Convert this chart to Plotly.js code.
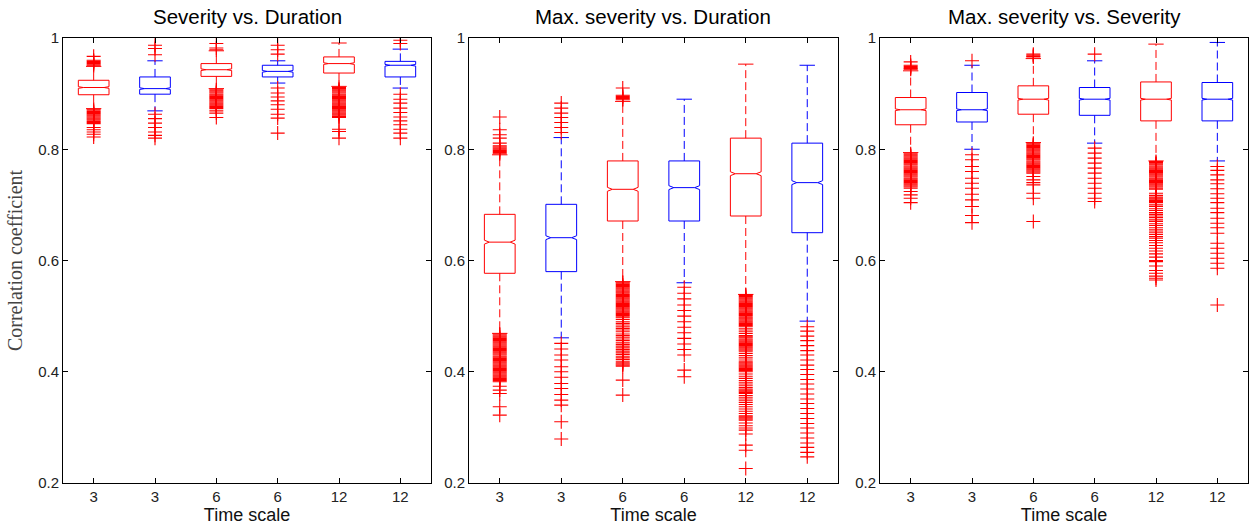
<!DOCTYPE html>
<html><head><meta charset="utf-8">
<script src="https://cdn.plot.ly/plotly-3.0.1.min.js"></script>
<style>html,body{margin:0;padding:0;background:#fff}#chart{width:1250px;height:527px}</style>
</head><body><div id="chart"></div>
<script>
// ---------- shared labels ----------
const positions = [1, 2, 3, 4, 5, 6];
const tickLabels = ["3", "3", "6", "6", "12", "12"];
const boxColors = ["#ff0000", "#0000ff", "#ff0000", "#0000ff", "#ff0000", "#0000ff"];
const panelTitles = ["Severity vs. Duration", "Max. severity vs. Duration", "Max. severity vs. Severity"];
const xTitle = "Time scale";
const yTitle = "Correlation coefficient";
const yTickVals = [0.2, 0.4, 0.6, 0.8, 1];
const yTickText = ["0.2", "0.4", "0.6", "0.8", "1"];

// ---------- Panel 1: Severity vs. Duration ----------
const p1_q1 = [0.898, 0.899, 0.931, 0.930, 0.937, 0.930];
const p1_med = [0.911, 0.909, 0.943, 0.940, 0.954, 0.951];
const p1_q3 = [0.924, 0.930, 0.954, 0.951, 0.966, 0.958];
const p1_lo = [0.873, 0.869, 0.909, 0.919, 0.913, 0.910];
const p1_hi = [0.949, 0.959, 0.977, 0.959, 0.991, 0.980];
const p1_notch = [0.0015, 0.0015, 0.0015, 0.0015, 0.0015, 0.0015];
const p1_out = [
  [0.967, 0.960, 0.958, 0.956, 0.954, 0.952, 0.950,
   0.872, 0.870, 0.868, 0.866, 0.864, 0.862, 0.860, 0.858, 0.856, 0.854, 0.852, 0.850, 0.848, 0.846,
   0.839, 0.835, 0.831, 0.827, 0.822],
  [0.987, 0.981, 0.970, 0.863, 0.855, 0.847, 0.839, 0.831, 0.825, 0.820],
  [0.990, 0.982, 0.979,
   0.907, 0.905, 0.903, 0.901, 0.899, 0.897, 0.895, 0.893, 0.891, 0.889, 0.887, 0.885, 0.883, 0.881,
   0.879, 0.877, 0.875, 0.873, 0.869, 0.865, 0.857],
  [0.987, 0.979, 0.971, 0.910, 0.901, 0.894, 0.887, 0.880, 0.872, 0.863, 0.856, 0.829],
  [0.911, 0.909, 0.907, 0.905, 0.903, 0.901, 0.899, 0.897, 0.895, 0.893, 0.891, 0.889, 0.887, 0.885,
   0.883, 0.881, 0.879, 0.877, 0.875, 0.873, 0.871, 0.869, 0.867, 0.865, 0.863, 0.861, 0.859, 0.857,
   0.836, 0.832, 0.820],
  [0.996, 0.990, 0.899, 0.890, 0.883, 0.874, 0.866, 0.858, 0.851, 0.844, 0.836, 0.829, 0.820]
];

// ---------- Panel 2: Max. severity vs. Duration ----------
const p2_q1 = [0.577, 0.580, 0.671, 0.671, 0.680, 0.650];
const p2_med = [0.633, 0.641, 0.728, 0.731, 0.756, 0.740];
const p2_q3 = [0.683, 0.701, 0.779, 0.779, 0.820, 0.811];
const p2_lo = [0.469, 0.461, 0.562, 0.560, 0.539, 0.491];
const p2_hi = [0.790, 0.821, 0.886, 0.890, 0.953, 0.951];
const p2_notch = [0.0035, 0.0035, 0.0035, 0.0035, 0.0035, 0.0035];
const p2_out = [
  [0.858, 0.835, 0.826, 0.820, 0.811, 0.806, 0.804, 0.802, 0.800, 0.798, 0.796, 0.794, 0.792,
   0.468, 0.466, 0.464, 0.462, 0.460, 0.458, 0.456, 0.454, 0.452, 0.450, 0.448, 0.446, 0.444, 0.442,
   0.440, 0.438, 0.436, 0.434, 0.432, 0.430, 0.428, 0.426, 0.424, 0.422, 0.420, 0.418, 0.416, 0.414,
   0.412, 0.410, 0.408, 0.406, 0.404, 0.402, 0.400, 0.398, 0.396, 0.394, 0.392, 0.390, 0.388, 0.386,
   0.384, 0.382, 0.374, 0.367, 0.361, 0.337, 0.322],
  [0.883, 0.874, 0.865, 0.857, 0.848, 0.839, 0.830,
   0.451, 0.441, 0.430, 0.421, 0.409, 0.400, 0.390, 0.379, 0.370, 0.359, 0.349, 0.340, 0.310, 0.279],
  [0.910, 0.897, 0.895, 0.893, 0.891, 0.889,
   0.561, 0.559, 0.557, 0.555, 0.553, 0.551, 0.549, 0.547, 0.545, 0.543, 0.541, 0.539, 0.537, 0.535,
   0.533, 0.531, 0.529, 0.527, 0.525, 0.523, 0.521, 0.519, 0.517, 0.515, 0.513, 0.511, 0.509, 0.507,
   0.505, 0.503, 0.501, 0.499, 0.497, 0.494, 0.490, 0.487, 0.484, 0.481, 0.478, 0.475, 0.472, 0.468,
   0.465, 0.462, 0.459, 0.456, 0.452, 0.449, 0.446, 0.443, 0.440, 0.437, 0.434, 0.431, 0.428, 0.425,
   0.422, 0.419, 0.416, 0.414, 0.412, 0.410, 0.385, 0.358],
  [0.552, 0.541, 0.531, 0.520, 0.510, 0.500, 0.490, 0.480, 0.470, 0.460, 0.450, 0.440, 0.430, 0.403, 0.391],
  [0.539, 0.537, 0.535, 0.533, 0.531, 0.529, 0.527, 0.525, 0.523, 0.521, 0.519, 0.517, 0.515, 0.513,
   0.511, 0.509, 0.507, 0.505, 0.503, 0.501, 0.499, 0.497, 0.495, 0.493, 0.491, 0.489, 0.487, 0.485,
   0.483, 0.481, 0.477, 0.473, 0.469, 0.465, 0.463, 0.461, 0.459, 0.457, 0.455, 0.453, 0.451, 0.449,
   0.447, 0.445, 0.443, 0.441, 0.439, 0.437, 0.433, 0.429, 0.425, 0.421, 0.418, 0.416, 0.414, 0.412,
   0.410, 0.408, 0.406, 0.404, 0.402, 0.400, 0.396, 0.392, 0.388, 0.384, 0.380, 0.376, 0.372, 0.369,
   0.367, 0.365, 0.363, 0.361, 0.357, 0.353, 0.349, 0.345, 0.341, 0.337, 0.333, 0.329, 0.325, 0.321,
   0.319, 0.317, 0.315, 0.313, 0.308, 0.303, 0.299, 0.295, 0.288, 0.268, 0.259, 0.226],
  [0.481, 0.473, 0.464, 0.456, 0.447, 0.438, 0.430, 0.421, 0.412, 0.404, 0.395, 0.386, 0.378, 0.369,
   0.360, 0.351, 0.343, 0.334, 0.325, 0.316, 0.307, 0.299, 0.290, 0.281, 0.272, 0.264, 0.255, 0.247]
];

// ---------- Panel 3: Max. severity vs. Severity ----------
const p3_q1 = [0.844, 0.849, 0.863, 0.861, 0.851, 0.851];
const p3_med = [0.871, 0.871, 0.890, 0.890, 0.890, 0.890];
const p3_q3 = [0.893, 0.902, 0.914, 0.911, 0.921, 0.920];
const p3_lo = [0.794, 0.800, 0.812, 0.811, 0.779, 0.779];
const p3_hi = [0.941, 0.951, 0.963, 0.959, 0.989, 0.992];
const p3_notch = [0.0015, 0.0015, 0.0015, 0.0015, 0.0015, 0.0015];
const p3_out = [
  [0.957, 0.951, 0.949, 0.947, 0.945, 0.944,
   0.792, 0.790, 0.788, 0.786, 0.784, 0.782, 0.780, 0.778, 0.776, 0.774, 0.772, 0.770, 0.768, 0.766,
   0.764, 0.762, 0.760, 0.758, 0.756, 0.754, 0.752, 0.750, 0.748, 0.746, 0.744, 0.742, 0.740, 0.738,
   0.736, 0.734, 0.732, 0.730, 0.724, 0.718, 0.712, 0.704],
  [0.959, 0.790, 0.781, 0.769, 0.760, 0.748, 0.739, 0.730, 0.719, 0.709, 0.697, 0.681, 0.668],
  [0.971, 0.969, 0.967, 0.966,
   0.811, 0.809, 0.807, 0.805, 0.803, 0.801, 0.799, 0.797, 0.795, 0.793, 0.791, 0.789, 0.787, 0.785,
   0.783, 0.781, 0.779, 0.777, 0.775, 0.773, 0.771, 0.769, 0.767, 0.765, 0.763, 0.761, 0.759, 0.757,
   0.751, 0.745, 0.740, 0.736, 0.721, 0.712, 0.670],
  [0.971, 0.802, 0.793, 0.784, 0.775, 0.766, 0.757, 0.748, 0.739, 0.730, 0.721, 0.712, 0.706],
  [0.778, 0.776, 0.774, 0.772, 0.770, 0.768, 0.766, 0.764, 0.762, 0.760, 0.758, 0.756, 0.754, 0.752,
   0.750, 0.748, 0.746, 0.744, 0.742, 0.740, 0.738, 0.736, 0.734, 0.732, 0.730, 0.728, 0.721, 0.717,
   0.714, 0.712, 0.710, 0.708, 0.706, 0.704, 0.700, 0.697, 0.693, 0.690, 0.686, 0.683, 0.680, 0.677,
   0.673, 0.670, 0.666, 0.663, 0.659, 0.655, 0.651, 0.647, 0.643, 0.640, 0.636, 0.632, 0.627, 0.622,
   0.617, 0.612, 0.606, 0.600, 0.598, 0.590, 0.582, 0.577, 0.572, 0.568, 0.565],
  [0.769, 0.762, 0.754, 0.745, 0.738, 0.729, 0.720, 0.712, 0.704, 0.694, 0.686, 0.676, 0.667, 0.659,
   0.649, 0.631, 0.622, 0.613, 0.604, 0.595, 0.586, 0.520]
];

// ---------- build ----------
const panels = [
  {q1: p1_q1, med: p1_med, q3: p1_q3, lo: p1_lo, hi: p1_hi, notch: p1_notch, out: p1_out},
  {q1: p2_q1, med: p2_med, q3: p2_q3, lo: p2_lo, hi: p2_hi, notch: p2_notch, out: p2_out},
  {q1: p3_q1, med: p3_med, q3: p3_q3, lo: p3_lo, hi: p3_hi, notch: p3_notch, out: p3_out}
];
const BOXW = 0.5, CAPW = 0.25;
const traces = [];
panels.forEach((p, pi) => {
  const xa = pi === 0 ? 'x' : 'x' + (pi + 1);
  const ya = pi === 0 ? 'y' : 'y' + (pi + 1);
  positions.forEach((pos, i) => {
    const col = boxColors[i];
    traces.push({
      type: 'box', x: [pos], q1: [p.q1[i]], median: [p.med[i]], q3: [p.q3[i]],
      lowerfence: [p.q1[i]], upperfence: [p.q3[i]],
      notched: true, notchspan: [p.notch[i]], notchwidth: 0.16,
      width: BOXW, whiskerwidth: 0, boxpoints: false,
      line: {color: col, width: 1}, fillcolor: 'rgba(0,0,0,0)',
      xaxis: xa, yaxis: ya, showlegend: false, hoverinfo: 'skip'
    });
    // whiskers (dashed)
    traces.push({
      type: 'scatter', mode: 'lines',
      x: [pos, pos, null, pos, pos], y: [p.q3[i], p.hi[i], null, p.q1[i], p.lo[i]],
      line: {color: col, width: 1, dash: '8px,4px'},
      xaxis: xa, yaxis: ya, showlegend: false, hoverinfo: 'skip'
    });
    // whisker caps
    traces.push({
      type: 'scatter', mode: 'lines',
      x: [pos - CAPW / 2, pos + CAPW / 2, null, pos - CAPW / 2, pos + CAPW / 2],
      y: [p.hi[i], p.hi[i], null, p.lo[i], p.lo[i]],
      line: {color: col, width: 1},
      xaxis: xa, yaxis: ya, showlegend: false, hoverinfo: 'skip'
    });
    // outliers
    traces.push({
      type: 'scatter', mode: 'markers',
      x: p.out[i].map(() => pos), y: p.out[i],
      marker: {symbol: 'cross-thin', size: 10, color: '#ff0000', line: {color: '#ff0000', width: 1.1}},
      xaxis: xa, yaxis: ya, showlegend: false, hoverinfo: 'skip'
    });
  });
});

const xDomains = [[63 / 1250, 431 / 1250], [469 / 1250, 838 / 1250], [880 / 1250, 1248 / 1250]];
const yDomain = [1 - 483 / 527, 1 - 38 / 527];
const tickFont = {family: 'Liberation Sans, Arial, sans-serif', size: 15, color: '#222'};

const layout = {
  width: 1250, height: 527,
  margin: {l: 0, r: 0, t: 0, b: 0},
  paper_bgcolor: '#fff', plot_bgcolor: '#fff',
  showlegend: false,
  annotations: []
};
xDomains.forEach((d, i) => {
  const sx = i === 0 ? '' : String(i + 1);
  layout['xaxis' + sx] = {
    domain: d, range: [0.5, 6.5], tickvals: positions, ticktext: tickLabels,
    ticks: 'inside', ticklen: 5, tickcolor: '#000', showline: true, linecolor: '#000', linewidth: 1,
    mirror: 'ticks', showgrid: false, zeroline: false, tickfont: tickFont, fixedrange: true,
    anchor: i === 0 ? 'y' : 'y' + (i + 1),
    title: {text: xTitle, font: {family: 'Liberation Sans, Arial, sans-serif', size: 18, color: '#111'}, standoff: 4}
  };
  layout['yaxis' + sx] = {
    domain: yDomain, range: [0.2, 1], tickvals: yTickVals, ticktext: yTickText,
    ticks: 'inside', ticklen: 5, tickcolor: '#000', showline: true, linecolor: '#000', linewidth: 1,
    mirror: 'ticks', showgrid: false, zeroline: false, tickfont: tickFont, fixedrange: true,
    anchor: i === 0 ? 'x' : 'x' + (i + 1),
    title: i === 0 ? {text: yTitle, font: {family: 'Liberation Serif, Times New Roman, serif', size: 20, color: '#444'}, standoff: 10} : {text: ''}
  };
  layout.annotations.push({
    text: panelTitles[i], xref: 'paper', yref: 'paper',
    x: (d[0] + d[1]) / 2, y: 1 - 17 / 527, xanchor: 'center', yanchor: 'middle', showarrow: false,
    font: {family: 'Liberation Sans, Arial, sans-serif', size: 20.5, color: '#000'}
  });
});

Plotly.newPlot('chart', traces, layout, {displayModeBar: false, staticPlot: true});
</script>
</body></html>
